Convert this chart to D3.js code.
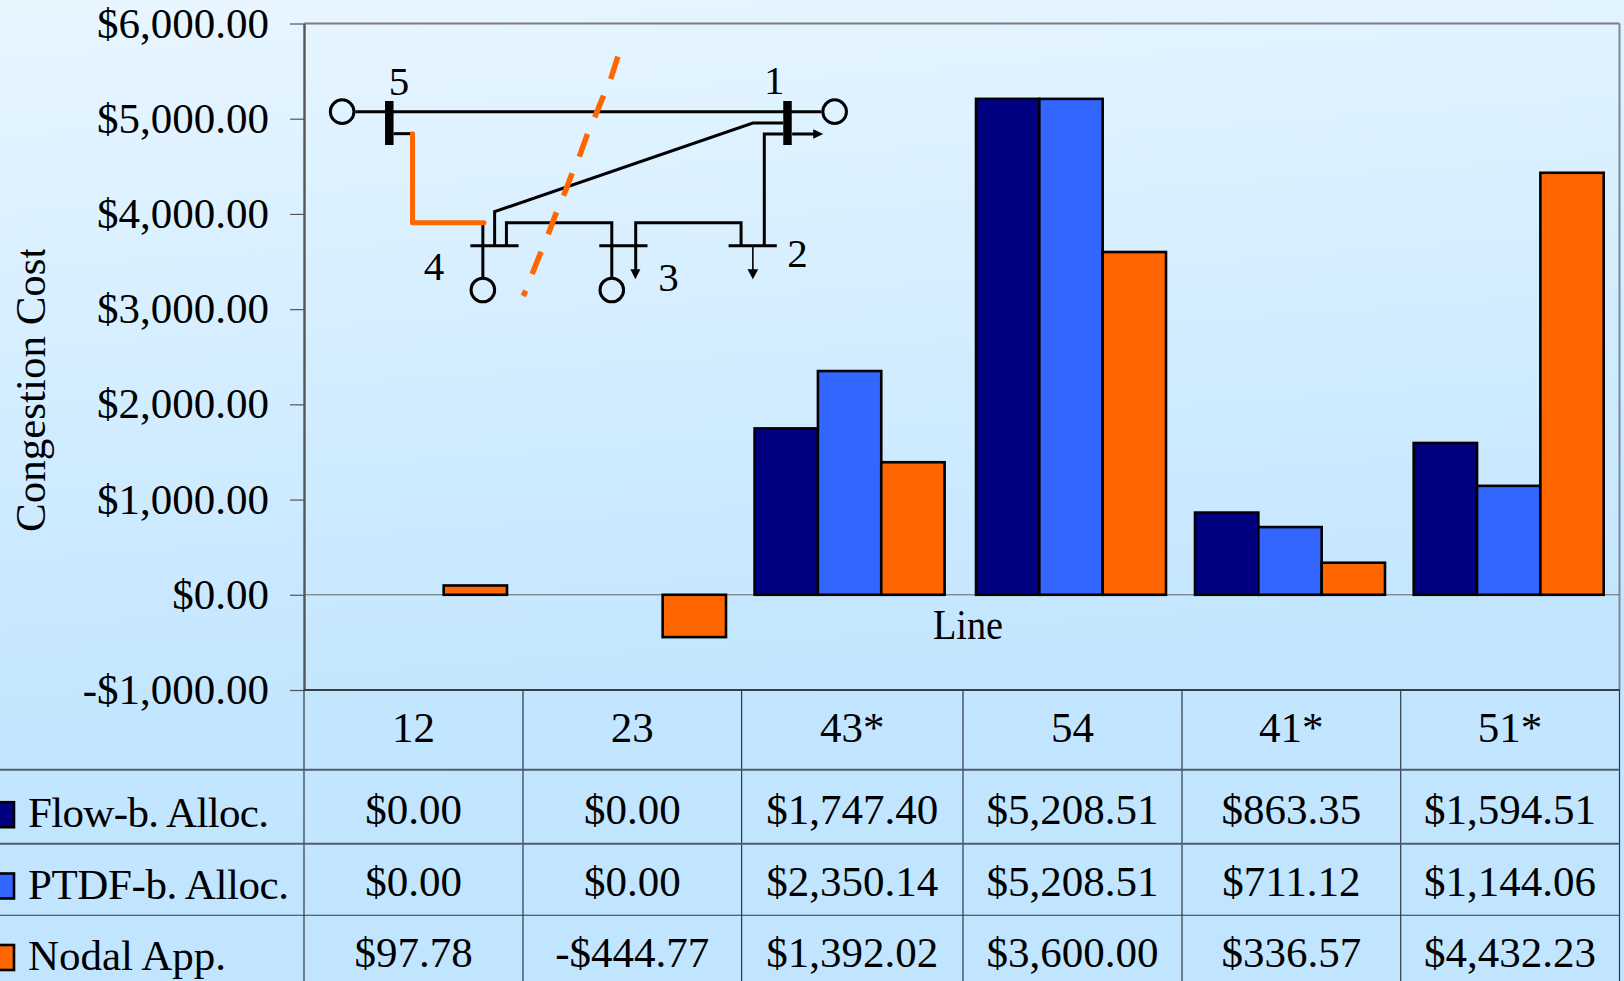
<!DOCTYPE html>
<html>
<head>
<meta charset="utf-8">
<script src="https://cdn.jsdelivr.net/npm/d3@7/dist/d3.min.js"></script>
<style>
  html, body { margin: 0; padding: 0; overflow: hidden; background: #c2e6ff; }
  svg { display: block; }
  text { font-family: "Liberation Serif", "Times New Roman", serif; fill: #000; }
</style>
</head>
<body>
<svg id="chart" width="1624" height="981"></svg>
<script>
// Congestion cost per line, by allocation method
const lines = ["12", "23", "43*", "54", "41*", "51*"];
const seriesNames = ["Flow-b. Alloc.", "PTDF-b. Alloc.", "Nodal App."];
const flowBased = [0, 0, 1747.40, 5208.51, 863.35, 1594.51];
const ptdfBased = [0, 0, 2350.14, 5208.51, 711.12, 1144.06];
const nodalApp = [97.78, -444.77, 1392.02, 3600.00, 336.57, 4432.23];
const seriesValues = [flowBased, ptdfBased, nodalApp];
const seriesColors = ["#000080", "#3366ff", "#ff6600"];
const yTicks = [-1000, 0, 1000, 2000, 3000, 4000, 5000, 6000];

// Five-bus network inset, in its own 1568x870 drawing units
const networkWires = [
  [[155,245],[1460,245]],
  [[262,311],[315,311]],
  [[512,578],[512,745]],
  [[477,647],[612,647]],
  [[545,647],[545,545],[1268,279],[1353,279]],
  [[578,647],[578,578],[873,578],[873,745]],
  [[838,647],[973,647]],
  [[940,647],[940,725]],
  [[940,647],[940,578],[1235,578],[1235,647]],
  [[1200,647],[1335,647]],
  [[1300,647],[1300,312],[1353,312]],
  [[1378,312],[1440,312]]
];
const networkThinWires = [[[1268,647],[1268,725]]];
const networkBusBars = [[[250,213],[250,345]], [[1365,213],[1365,345]]];
const networkGenerators = [[118,245],[1497,245],[512,780],[873,780]];
const networkArrowHeads = [
  [[925,718],[953,718],[939,748]],
  [[1253,718],[1283,718],[1268,748]],
  [[1437,298],[1465,312],[1437,326]]
];
const congestedPath = [[315,311],[315,578],[515,578]];
const cutDashes = [
  [[890,80],[870,147]], [[850,197],[825,262]], [[805,312],[782,380]],
  [[762,430],[738,497]], [[718,547],[695,613]], [[675,665],[650,732]],
  [[632,782],[625,798]]
];
const busLabels = [["5",277,195],["1",1328,193],["4",375,749],["3",1032,782],["2",1393,712]];

const width = 1624, height = 981;
const plot = { left: 304, right: 1619.5, top: 23.5, bottom: 690 };
const columnEdges = [304, 523, 741.6, 963, 1182, 1400.7, 1619.5];
const rowLines = [769.7, 843.7, 915.3];
const rowBaselines = [824.2, 895.5, 967];
const headerBaseline = 742;
const legendWidths = [241, 261, 198];
const groupInset = 13, groupWidth = 190;

const svg = d3.select("#chart");
const money = d3.formatLocale({
  decimal: ".", thousands: ",", grouping: [3], currency: ["$", ""], minus: "-"
}).format("$,.2f");

const defs = svg.append("defs");
const bg = defs.append("linearGradient").attr("id", "bg")
  .attr("x1", 0).attr("y1", 0).attr("x2", 0.12).attr("y2", 1);
bg.append("stop").attr("offset", "0%").attr("stop-color", "#e8f6ff");
bg.append("stop").attr("offset", "72%").attr("stop-color", "#c3e6ff");
bg.append("stop").attr("offset", "100%").attr("stop-color", "#c1e5ff");
defs.append("clipPath").attr("id", "titleClip").append("rect")
  .attr("x", 0).attr("y", 249.5).attr("width", 70).attr("height", 300);

svg.append("rect").attr("width", width).attr("height", height).attr("fill", "url(#bg)");

// The table columns are not quite even, so groups are placed from the column edges
const x0 = d3.scaleOrdinal().domain(lines).range(columnEdges.slice(0, -1));
const columnMid = l => { const i = lines.indexOf(l); return (columnEdges[i] + columnEdges[i + 1]) / 2; };
const x1 = d3.scaleBand().domain(d3.range(seriesValues.length)).range([0, groupWidth]);
const y = d3.scaleLinear().domain([-1000, 6000]).range([plot.bottom, plot.top]);

// Plot frame
const frame = svg.append("g").attr("fill", "none");
frame.append("line").attr("x1", plot.left).attr("x2", plot.right)
  .attr("y1", plot.top).attr("y2", plot.top).attr("stroke", "#7d7d7d").attr("stroke-width", 2);
frame.append("line").attr("x1", plot.right).attr("x2", plot.right)
  .attr("y1", plot.top).attr("y2", plot.bottom).attr("stroke", "#7d8a96").attr("stroke-width", 2);
frame.append("line").attr("x1", plot.left).attr("x2", plot.right)
  .attr("y1", y(0)).attr("y2", y(0)).attr("stroke", "#666").attr("stroke-width", 1);

// Bars
svg.append("g").selectAll("g").data(seriesValues).join("g")
  .attr("fill", (d, i) => seriesColors[i])
  .each(function (values, s) {
    d3.select(this).selectAll("rect")
      .data(values.map((v, i) => ({ v, line: lines[i] })).filter(d => d.v !== 0))
      .join("rect")
      .attr("x", d => x0(d.line) + groupInset + x1(s))
      .attr("width", x1.bandwidth())
      .attr("y", d => y(Math.max(0, d.v)))
      .attr("height", d => Math.abs(y(d.v) - y(0)))
      .attr("stroke", "#000").attr("stroke-width", 2.6);
  });

// Value axis
const axis = svg.append("g").attr("transform", `translate(${plot.left},0)`)
  .call(d3.axisLeft(y).tickValues(yTicks).tickFormat(money).tickSize(14).tickSizeOuter(0));
axis.select(".domain").attr("stroke", "#555").attr("stroke-width", 2.4);
axis.selectAll(".tick line").attr("stroke", "#555").attr("stroke-width", 1.2);
axis.selectAll(".tick text")
  .attr("x", -35).attr("dy", null).attr("y", 13.5)
  .attr("text-anchor", "end").attr("font-size", 43);

// Axis titles
svg.append("g").attr("clip-path", "url(#titleClip)").append("text")
  .attr("transform", "translate(45,532) rotate(-90)")
  .attr("font-size", 43).text("Congestion Cost");
svg.append("text")
  .attr("x", 933).attr("y", 639)
  .attr("textLength", 70).attr("lengthAdjust", "spacingAndGlyphs")
  .attr("font-size", 43)
  .text("Line");

// Data table under the plot
const table = svg.append("g");
table.selectAll("line.col").data(columnEdges).join("line").attr("class", "col")
  .attr("x1", d => d).attr("x2", d => d)
  .attr("y1", plot.bottom).attr("y2", height)
  .attr("stroke", "#2c3944").attr("stroke-width", 1.2);
table.append("line").attr("x1", plot.left).attr("x2", plot.right)
  .attr("y1", plot.bottom).attr("y2", plot.bottom)
  .attr("stroke", "#3c3c3c").attr("stroke-width", 2);
table.selectAll("line.row").data(rowLines).join("line").attr("class", "row")
  .attr("x1", 0).attr("x2", plot.right)
  .attr("y1", d => d).attr("y2", d => d)
  .attr("stroke", (d, i) => i < 2 ? "#4c5f70" : "#2c3944")
  .attr("stroke-width", (d, i) => i < 2 ? 2 : 1.1);

const cellText = (sel, baseline) => sel
  .attr("x", d => columnMid(d.line)).attr("y", baseline)
  .attr("text-anchor", "middle").attr("font-size", 43).text(d => d.label);

table.selectAll("text.head").data(lines.map(l => ({ line: l, label: l }))).join("text")
  .attr("class", "head").call(cellText, headerBaseline);

seriesValues.forEach((values, s) => {
  table.selectAll(`text.v${s}`)
    .data(values.map((v, i) => ({ line: lines[i], label: money(v) })))
    .join("text").attr("class", `v${s}`).call(cellText, rowBaselines[s]);
});

// Legend keys and names in the first table column
const legend = table.selectAll("g.key").data(seriesNames).join("g").attr("class", "key");
legend.append("rect")
  .attr("x", -10).attr("width", 24)
  .attr("y", (d, i) => rowBaselines[i] - 22).attr("height", 25)
  .attr("fill", (d, i) => seriesColors[i])
  .attr("stroke", "#000").attr("stroke-width", 2.6);
legend.append("text")
  .attr("x", 28).attr("y", (d, i) => rowBaselines[i] + 3)
  .attr("textLength", (d, i) => legendWidths[i]).attr("lengthAdjust", "spacing")
  .attr("font-size", 43)
  .text(d => d);

// Network inset
const nx = d3.scaleLinear().domain([0, 1568]).range([300, 860]);
const ny = d3.scaleLinear().domain([0, 870]).range([30, 320]);
const wire = d3.line().x(d => nx(d[0])).y(d => ny(d[1]));
const inset = svg.append("g").attr("fill", "none");
inset.selectAll("path.wire").data(networkWires).join("path").attr("class", "wire")
  .attr("d", wire).attr("stroke", "#000").attr("stroke-width", 3).attr("stroke-linejoin", "miter");
inset.selectAll("path.thin").data(networkThinWires).join("path").attr("class", "thin")
  .attr("d", wire).attr("stroke", "#000").attr("stroke-width", 1.6);
inset.selectAll("path.bus").data(networkBusBars).join("path").attr("class", "bus")
  .attr("d", wire).attr("stroke", "#000").attr("stroke-width", 8.5);
inset.selectAll("path.head").data(networkArrowHeads).join("path").attr("class", "head")
  .attr("d", d => wire(d) + "Z").attr("fill", "#000");
inset.selectAll("ellipse").data(networkGenerators).join("ellipse")
  .attr("cx", d => nx(d[0])).attr("cy", d => ny(d[1]))
  .attr("rx", 11.8).attr("ry", 11.8)
  .attr("fill", "none").attr("stroke", "#000").attr("stroke-width", 3);
inset.append("path").attr("d", wire(congestedPath))
  .attr("stroke", "#ff6600").attr("stroke-width", 5).attr("stroke-linejoin", "round").attr("stroke-linecap", "round");
inset.selectAll("path.cut").data(cutDashes).join("path").attr("class", "cut")
  .attr("d", wire).attr("stroke", "#ff6600").attr("stroke-width", 5.5);
svg.append("g").selectAll("text").data(busLabels).join("text")
  .attr("x", d => nx(d[1])).attr("y", d => ny(d[2]))
  .attr("text-anchor", "middle").attr("font-size", 41).text(d => d[0]);
</script>
</body>
</html>
